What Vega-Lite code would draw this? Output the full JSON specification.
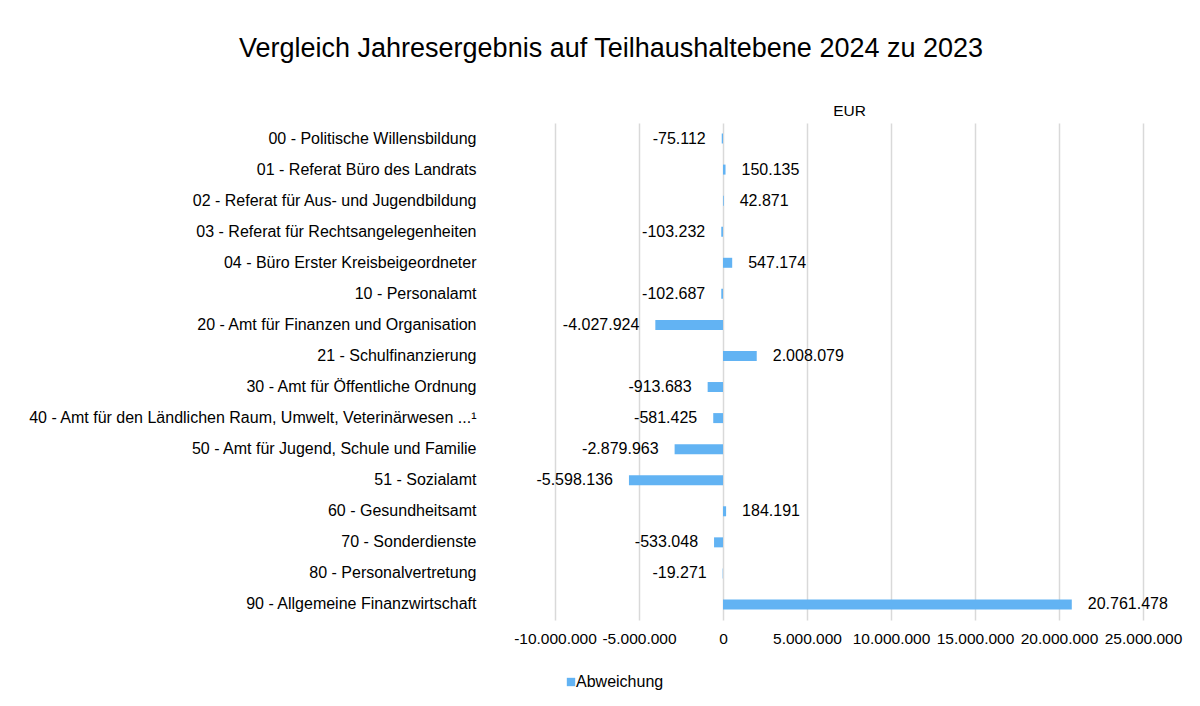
{
  "$schema": "https://vega.github.io/schema/vega-lite/v6.json",
  "width": 588,
  "height": 497,
  "autosize": {"type": "none"},
  "padding": {"left": 555, "top": 123, "right": 57, "bottom": 86},
  "background": "white",
  "title": {
    "text": "Vergleich Jahresergebnis auf Teilhaushaltebene 2024 zu 2023",
    "fontSize": 27,
    "font": "Liberation Sans",
    "fontWeight": "normal",
    "color": "#000000",
    "anchor": "middle",
    "dx": -238,
    "offset": 40
  },
  "data": {
    "values": [
      {"teil": "00 - Politische Willensbildung", "wert": -75112},
      {"teil": "01 - Referat Büro des Landrats", "wert": 150135},
      {"teil": "02 - Referat für Aus- und Jugendbildung", "wert": 42871},
      {"teil": "03 - Referat für Rechtsangelegenheiten", "wert": -103232},
      {"teil": "04 - Büro Erster Kreisbeigeordneter", "wert": 547174},
      {"teil": "10 - Personalamt", "wert": -102687},
      {"teil": "20 - Amt für Finanzen und Organisation", "wert": -4027924},
      {"teil": "21 - Schulfinanzierung", "wert": 2008079},
      {"teil": "30 - Amt für Öffentliche Ordnung", "wert": -913683},
      {"teil": "40 - Amt für den Ländlichen Raum, Umwelt, Veterinärwesen ...¹", "wert": -581425},
      {"teil": "50 - Amt für Jugend, Schule und Familie", "wert": -2879963},
      {"teil": "51 - Sozialamt", "wert": -5598136},
      {"teil": "60 - Gesundheitsamt", "wert": 184191},
      {"teil": "70 - Sonderdienste", "wert": -533048},
      {"teil": "80 - Personalvertretung", "wert": -19271},
      {"teil": "90 - Allgemeine Finanzwirtschaft", "wert": 20761478}
    ]
  },
  "encoding": {
    "y": {
      "field": "teil",
      "type": "nominal",
      "sort": null,
      "scale": {"paddingInner": 0, "paddingOuter": 0},
      "axis": {
        "title": null,
        "ticks": false,
        "domain": false,
        "grid": false,
        "labelPadding": 79,
        "labelFont": "Liberation Sans",
        "labelFontSize": 16,
        "labelColor": "#000000",
        "labelLimit": 600
      }
    }
  },
  "layer": [
    {
      "mark": {"type": "bar", "size": 10},
      "encoding": {
        "x": {
          "field": "wert",
          "type": "quantitative",
          "scale": {"domain": [-10000000, 25000000], "nice": false, "zero": false},
          "axis": {
            "orient": "bottom",
            "title": null,
            "values": [-10000000, -5000000, 0, 5000000, 10000000, 15000000, 20000000, 25000000],
            "format": ",.0f",
            "ticks": false,
            "domain": false,
            "grid": true,
            "gridColor": "#D9D9D9",
            "gridWidth": 1.5,
            "labelPadding": 11,
            "labelFont": "Liberation Sans",
            "labelFontSize": 15.5,
            "labelColor": "#000000",
            "labelFlush": false,
            "labelOverlap": false
          }
        },
        "color": {
          "datum": "Abweichung",
          "type": "nominal",
          "scale": {"range": ["#62B3F3"]},
          "legend": {
            "title": null,
            "orient": "none",
            "legendX": 8,
            "legendY": 551,
            "padding": 0,
            "symbolType": "square",
            "symbolSize": 70,
            "symbolStrokeWidth": 0,
            "labelOffset": -3,
            "labelFont": "Liberation Sans",
            "labelFontSize": 16,
            "labelColor": "#000000"
          }
        }
      }
    },
    {
      "transform": [{"filter": "datum.wert < 0"}],
      "mark": {"type": "text", "align": "right", "baseline": "middle", "dx": -16, "font": "Liberation Sans", "fontSize": 16, "color": "#000000"},
      "encoding": {
        "x": {
          "field": "wert",
          "type": "quantitative",
          "axis": {
            "orient": "top",
            "title": "EUR",
            "titleFont": "Liberation Sans",
            "titleFontSize": 15.5,
            "titleFontWeight": "normal",
            "titleColor": "#000000",
            "titlePadding": 5,
            "labels": false,
            "ticks": false,
            "domain": false,
            "grid": false
          }
        },
        "text": {"field": "wert", "type": "quantitative", "format": ",.0f"}
      }
    },
    {
      "transform": [{"filter": "datum.wert >= 0"}],
      "mark": {"type": "text", "align": "left", "baseline": "middle", "dx": 16, "font": "Liberation Sans", "fontSize": 16, "color": "#000000"},
      "encoding": {
        "x": {"field": "wert", "type": "quantitative", "axis": null},
        "text": {"field": "wert", "type": "quantitative", "format": ",.0f"}
      }
    }
  ],
  "resolve": {"axis": {"x": "independent"}},
  "config": {
    "locale": {
      "number": {"decimal": ",", "thousands": ".", "grouping": [3], "currency": ["", " €"], "minus": "-"}
    },
    "view": {"stroke": null}
  }
}
